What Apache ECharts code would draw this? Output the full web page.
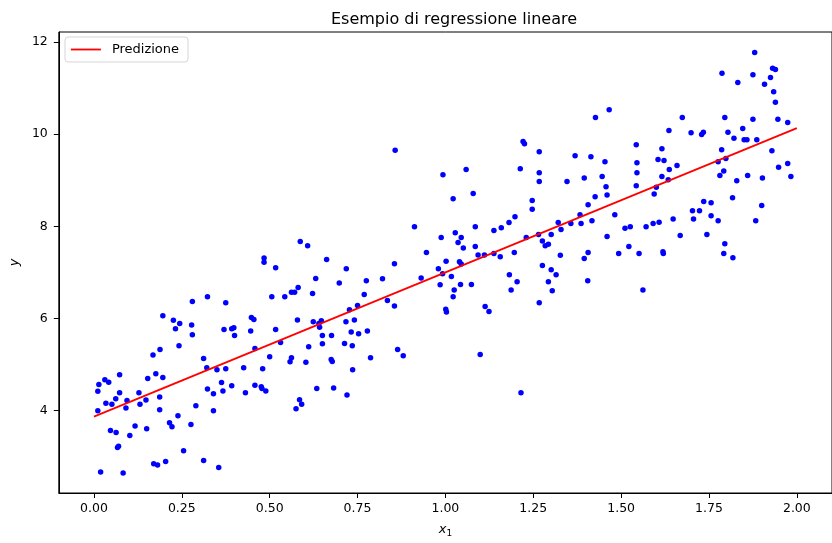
<!DOCTYPE html>
<html>
<head>
<meta charset="utf-8">
<style>
  html, body { margin: 0; padding: 0; background: #fff; }
  #chart { width: 832px; height: 543px; }
</style>
<script src="https://cdn.jsdelivr.net/npm/echarts@6/dist/echarts.min.js"></script>
</head>
<body>
<div id="chart"></div>
<script>
// Observed samples (x1, y)
const pointX = [
  0.019, 0.083, 0.011, 0.011, 0.014, 0.031, 0.042, 0.034, 0.051, 0.062,
  0.073, 0.073, 0.094, 0.091, 0.047, 0.063, 0.070, 0.067, 0.102, 0.117,
  0.128, 0.131, 0.148, 0.150, 0.153, 0.168, 0.176, 0.188, 0.196, 0.187,
  0.187, 0.170, 0.181, 0.204, 0.196, 0.215, 0.222, 0.226, 0.232, 0.244,
  0.242, 0.239, 0.255, 0.276, 0.290, 0.280, 0.278, 0.280, 0.323, 0.312,
  0.321, 0.323, 0.340, 0.340, 0.312, 0.355, 0.350, 0.363, 0.367, 0.370,
  0.375, 0.375, 0.392, 0.398, 0.400, 0.392, 0.426, 0.431, 0.446, 0.448,
  0.455, 0.458, 0.458,
  0.484, 0.484, 0.517, 0.587, 0.608, 0.662, 0.718, 0.631, 0.698, 0.775,
  0.821, 0.855, 0.912, 0.946, 0.988, 0.980, 0.992, 1.002, 0.985, 0.931,
  1.001, 1.003, 0.581, 0.571, 0.562, 0.543, 0.506, 0.622, 0.769, 0.750,
  0.727, 0.835, 0.855, 0.579, 0.624, 0.640, 0.647, 0.642, 0.650, 0.676,
  0.650, 0.717, 0.741, 0.732, 0.753, 0.778, 0.713, 0.735, 0.517, 0.531,
  0.500, 0.480, 0.476, 0.478, 0.489, 0.558, 0.562, 0.603, 0.611, 0.675,
  0.678, 0.736, 0.787, 0.864, 0.880, 0.634, 0.682, 0.720, 0.585, 0.591,
  0.575, 0.857,
  0.993, 1.059, 1.022, 1.079, 1.028, 1.045, 1.036, 1.051, 1.085, 1.085,
  1.093, 1.111, 1.040, 1.045, 1.017, 1.025, 1.022, 1.043, 1.074, 1.113,
  1.124, 1.099, 1.215, 1.138, 1.159, 1.181, 1.198, 1.138, 1.156, 1.196,
  1.182, 1.204, 1.187, 1.213, 1.221, 1.225, 1.267, 1.267, 1.267, 1.247,
  1.247, 1.230, 1.265, 1.276, 1.284, 1.293, 1.301, 1.276, 1.301, 1.315,
  1.293, 1.304, 1.267, 1.321, 1.329, 1.327, 1.346, 1.369, 1.357, 1.383,
  1.386, 1.395, 1.414, 1.454, 1.446, 1.457, 1.460, 1.426, 1.406, 1.417,
  1.482, 1.460, 1.511, 1.526, 1.395, 1.406, 1.405, 1.493, 1.522, 1.427,
  1.466,
  1.543, 1.545, 1.545, 1.543, 1.551, 1.562, 1.571, 1.591, 1.608, 1.619,
  1.620, 1.594, 1.600, 1.616, 1.634, 1.637, 1.659, 1.605, 1.622, 1.616,
  1.636, 1.674, 1.699, 1.729, 1.734, 1.648, 1.668, 1.735, 1.756, 1.703,
  1.723, 1.706, 1.756, 1.776, 1.744, 1.795, 1.792, 1.818, 1.817, 1.776,
  1.781, 1.792, 1.798, 1.786, 1.829, 1.860, 1.902, 1.900, 1.883, 1.795,
  1.804, 1.821, 1.846, 1.850, 1.858, 1.886, 1.875, 1.929, 1.948, 1.974,
  1.983, 1.946, 1.974, 1.787, 1.832, 1.875, 1.880, 1.908, 1.925, 1.931,
  1.939, 1.934, 1.939
];
const pointY = [
  2.67, 2.65, 4.00, 4.42, 4.57, 4.67, 4.62, 4.16, 4.14, 4.26,
  4.78, 4.39, 4.22, 4.06, 3.57, 3.53, 3.23, 3.20, 3.46, 3.67,
  4.39, 4.14, 4.23, 3.61, 4.70, 5.21, 4.80, 5.33, 4.72, 4.30,
  4.02, 2.85, 2.82, 2.90, 6.06, 3.74, 3.65, 5.96, 5.78, 5.89,
  5.41, 3.89, 3.13, 3.70, 4.11, 6.37, 5.86, 5.65, 6.47, 5.13,
  4.93, 4.47, 4.37, 4.00, 2.92, 2.77, 4.89, 4.61, 4.43, 5.76,
  6.34, 4.91, 5.78, 5.80, 5.63, 4.54, 4.93, 4.39, 5.73, 6.02,
  5.98, 5.35, 4.55,
  7.31, 7.22, 7.10, 7.67, 7.58, 7.28, 7.08, 6.87, 6.77, 6.82,
  6.86, 7.19, 7.99, 7.43, 7.76, 7.08, 6.97, 7.24, 6.73, 6.88,
  6.20, 6.14, 6.67, 6.57, 6.57, 6.47, 6.47, 6.54, 6.52, 6.28,
  6.19, 6.39, 6.27, 5.97, 5.93, 5.89, 5.95, 5.81, 5.63, 5.63,
  5.45, 5.93, 5.97, 5.71, 5.67, 5.73, 5.46, 5.41, 5.76, 5.48,
  5.17, 4.91, 4.52, 4.48, 4.43, 5.06, 5.15, 5.05, 5.39, 5.11,
  5.07, 4.89, 5.15, 5.33, 5.19, 4.48, 4.49, 4.34, 4.24, 4.14,
  4.04, 9.65,
  9.12, 9.23, 8.60, 8.71, 7.86, 7.76, 7.65, 7.53, 7.99, 7.56,
  7.38, 7.38, 7.23, 7.18, 6.91, 6.62, 6.47, 6.74, 6.74, 6.26,
  6.15, 5.22, 4.39, 7.91, 7.97, 8.08, 8.21, 7.41, 7.34, 7.43,
  6.95, 6.80, 6.62, 9.25, 9.84, 9.79, 9.62, 9.16, 8.97, 8.56,
  8.37, 7.76, 7.82, 7.68, 7.58, 7.61, 7.82, 7.15, 7.06, 6.95,
  6.80, 6.60, 6.34, 8.08, 7.93, 7.37, 8.97, 9.53, 8.06, 8.25,
  8.06, 9.05, 9.51, 9.40, 9.08, 8.86, 8.68, 8.64, 8.47, 8.12,
  8.25, 7.78, 7.96, 7.99, 7.30, 7.43, 6.82, 7.41, 7.56, 10.36,
  10.53,
  9.77, 9.38, 9.16, 8.88, 7.41, 6.62, 7.99, 8.06, 8.09, 7.45,
  7.41, 8.70, 8.85, 9.08, 9.01, 9.23, 9.32, 9.45, 9.43, 9.68,
  10.08, 10.36, 10.03, 9.99, 10.04, 8.16, 7.80, 8.54, 8.51, 8.34,
  8.34, 8.16, 8.23, 8.12, 7.82, 7.62, 7.41, 7.32, 8.62, 9.40,
  9.10, 9.20, 9.47, 9.66, 8.99, 9.10, 9.05, 8.45, 8.12, 10.36,
  10.04, 9.91, 10.12, 9.88, 9.88, 9.88, 10.32, 9.64, 9.28, 9.36,
  9.08, 10.32, 10.25, 11.32, 11.12, 11.29, 11.77, 11.08, 11.23, 11.43,
  11.40, 10.92, 10.69
];

// Fitted line endpoints
const predX = [0, 2];
const predY = [3.87, 10.13];

// Axis ticks
const xTicks = [0, 0.25, 0.5, 0.75, 1.0, 1.25, 1.5, 1.75, 2.0];
const yTicks = [4, 6, 8, 10, 12];

const FONT = "'DejaVu Sans', sans-serif";

const scatterData = pointX.map((x, i) => [x, pointY[i]]);
const lineData = predX.map((x, i) => [x, predY[i]]);

const chart = echarts.init(document.getElementById('chart'), null, { renderer: 'canvas' });

chart.setOption({
  animation: false,
  backgroundColor: '#ffffff',
  textStyle: { fontFamily: FONT },
  title: {
    text: 'Esempio di regressione lineare',
    left: 449,
    top: 7,
    textAlign: 'center',
    textStyle: { fontFamily: FONT, fontSize: 16, fontWeight: 'normal', color: '#000' }
  },
  legend: {
    data: ['Predizione'],
    left: 65,
    top: 37,
    padding: [6, 9, 6, 5],
    itemWidth: 30,
    itemHeight: 12,
    itemStyle: { opacity: 0 },
    lineStyle: { color: '#ff0000', width: 1.8, opacity: 1 },
    backgroundColor: 'rgba(255,255,255,0.8)',
    borderColor: '#d5d5d5',
    borderWidth: 1,
    borderRadius: 3,
    textStyle: { fontFamily: FONT, fontSize: 13, color: '#000', padding: [0, 0, 0, 6] }
  },
  grid: {
    left: 58,
    top: 32,
    right: -7,
    bottom: 46,
    show: true,
    borderColor: '#000',
    borderWidth: 1,
    backgroundColor: 'transparent'
  },
  xAxis: {
    type: 'value',
    min: -0.1,
    max: 2.1,
    splitLine: { show: false },
    axisLine: { show: true, onZero: false, lineStyle: { color: '#000', width: 1 } },
    axisTick: { show: true, customValues: xTicks, length: 5, lineStyle: { color: '#000' } },
    axisLabel: {
      customValues: xTicks,
      formatter: (v) => v.toFixed(2),
      margin: 9,
      fontSize: 12.5,
      color: '#000',
      fontFamily: FONT
    },
    name: '{i|x}{s|1}',
    nameLocation: 'middle',
    nameGap: 28,
    nameTextStyle: {
      rich: {
        i: { fontFamily: FONT, fontStyle: 'italic', fontSize: 13, color: '#000' },
        s: { fontFamily: FONT, fontSize: 9, color: '#000', padding: [8, 0, 0, 0] }
      }
    }
  },
  yAxis: {
    type: 'value',
    min: 2.215,
    max: 12.215,
    splitLine: { show: false },
    axisLine: { show: true, onZero: false, lineStyle: { color: '#000', width: 1 } },
    axisTick: { show: true, customValues: yTicks, length: 5, lineStyle: { color: '#000' } },
    axisLabel: {
      customValues: yTicks,
      margin: 11,
      fontSize: 12.5,
      color: '#000',
      fontFamily: FONT
    },
    name: 'y',
    nameLocation: 'middle',
    nameGap: 36,
    nameRotate: 90,
    nameTextStyle: { fontFamily: FONT, fontStyle: 'italic', fontSize: 13, color: '#000' }
  },
  series: [
    {
      type: 'scatter',
      data: scatterData,
      symbol: 'circle',
      symbolSize: 5.5,
      itemStyle: { color: '#0000ff', opacity: 1 },
      z: 2
    },
    {
      name: 'Predizione',
      type: 'line',
      data: lineData,
      symbol: 'none',
      lineStyle: { color: '#ff0000', width: 1.8 },
      itemStyle: { color: '#ff0000' },
      z: 3
    }
  ]
});
</script>
</body>
</html>
